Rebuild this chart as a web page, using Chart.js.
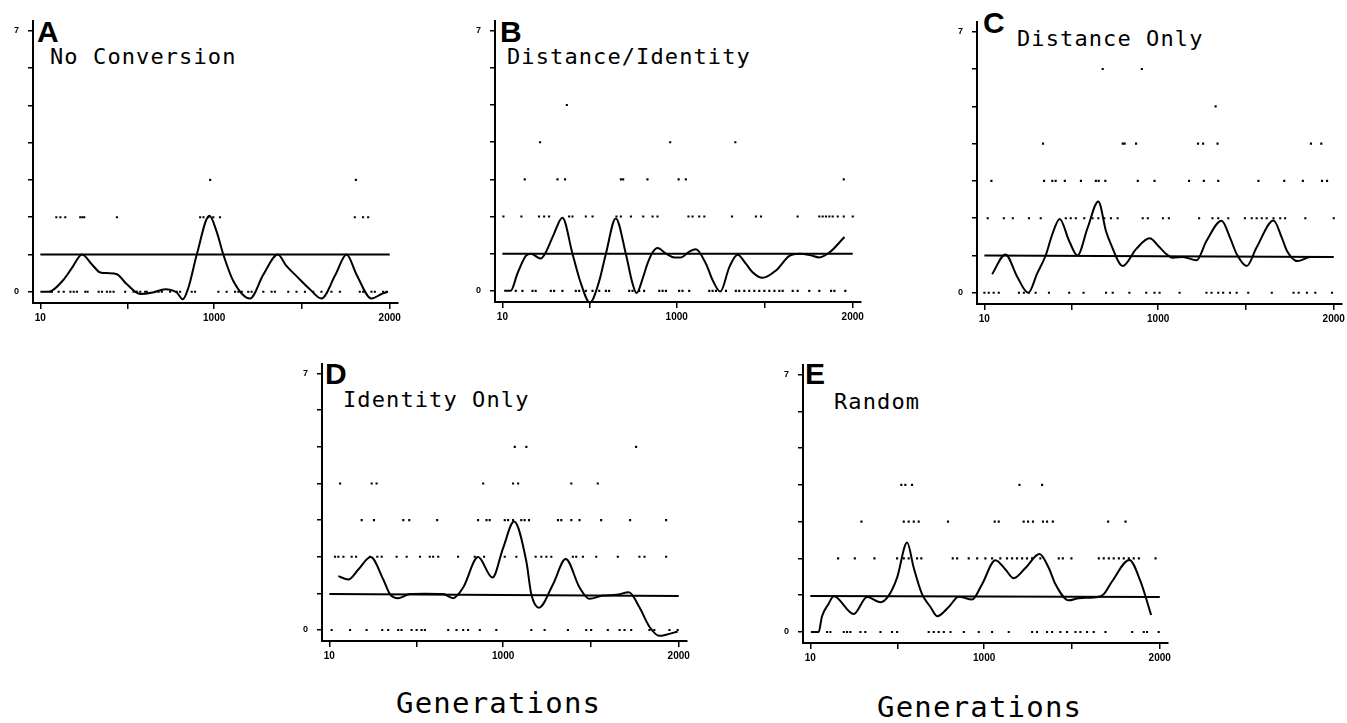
<!DOCTYPE html>
<html><head><meta charset="utf-8">
<script src="https://cdn.jsdelivr.net/npm/chart.js@4.4.0/dist/chart.umd.min.js"></script>
<style>
html,body{margin:0;padding:0;background:#fff;width:1347px;height:723px;overflow:hidden;position:relative;}
canvas{position:absolute;}
.lbl{position:absolute;font-family:"Liberation Sans",Arial,sans-serif;font-weight:bold;font-size:30px;line-height:30px;color:#000;white-space:nowrap;}
.ttl{position:absolute;font-family:"DejaVu Sans Mono",monospace;font-size:22px;line-height:22px;letter-spacing:1.1px;color:#000;white-space:nowrap;}
.gen{position:absolute;font-family:"DejaVu Sans Mono",monospace;font-size:29px;line-height:29px;letter-spacing:1.2px;color:#000;white-space:nowrap;}
</style></head><body>
<div class="lbl" style="left:37px;top:17px">A</div>
<div class="ttl" style="left:50px;top:46px">No Conversion</div>
<div class="lbl" style="left:500px;top:17px">B</div>
<div class="ttl" style="left:507px;top:46px">Distance/Identity</div>
<div class="lbl" style="left:983px;top:8px">C</div>
<div class="ttl" style="left:1017px;top:28px">Distance Only</div>
<div class="lbl" style="left:325px;top:359px">D</div>
<div class="ttl" style="left:343px;top:389px">Identity Only</div>
<div class="lbl" style="left:805px;top:359px">E</div>
<div class="ttl" style="left:834px;top:391px">Random</div>
<div class="gen" style="left:396px;top:689px">Generations</div>
<div class="gen" style="left:877px;top:693px">Generations</div>
<script>
// ---- tick labels ----
const xTickValues = [10, 505, 1000, 1500, 2000];
const xTickLabels = ['10', '', '1000', '', '2000'];
const yTickValues = [0, 1, 2, 3, 4, 5, 6, 7];
const yTickLabels = ['0', '', '', '', '', '', '', '7'];

// ---- Panel A: No Conversion ----
const curveAX = [10, 57, 143, 190, 247, 304, 351, 400, 446, 503, 579, 650, 721, 787, 821, 853, 901, 973, 1015, 1052, 1109, 1204, 1280, 1363, 1410, 1469, 1545, 1611, 1690, 1754, 1811, 1896, 1953, 1990];
const curveAY = [0, 0, 0.33, 0.64, 1.0, 0.73, 0.52, 0.5, 0.47, 0.2, -0.06, -0.02, 0.07, -0.02, -0.2, 0.11, 1.0, 2.04, 1.6, 1.0, 0.29, -0.18, 0.46, 1.0, 0.7, 0.42, 0.07, -0.18, 0.45, 1.0, 0.46, -0.18, -0.06, 0];
const meanA = [1.0, 1.0];
const dotsA = [
  [0, [67,76,114,143,181,200,218,266,279,342,361,389,408,427,493,541,560,579,607,616,664,683,702,749,787,806,872,891,1024,1071,1119,1138,1157,1194,1213,1280,1327,1346,1422,1469,1517,1564,1611,1668,1716,1829,1848,1896,1915,1962,1981]],
  [2, [101,124,152,237,249,260,446,920,939,967,995,1033,1801,1848,1877]],
  [3, [977,1807]]
];

// ---- Panel B: Distance/Identity ----
const curveBX = [20, 57, 95, 143, 171, 228, 256, 300, 351, 408, 456, 507, 556, 598, 654, 711, 749, 772, 810, 834, 863, 891, 940, 986, 1024, 1070, 1109, 1166, 1204, 1248, 1299, 1346, 1393, 1431, 1488, 1564, 1640, 1697, 1760, 1810, 1867, 1953];
const curveBY = [0, 0, 0.46, 0.94, 1.0, 0.87, 1.03, 1.5, 1.97, 1.0, 0.2, -0.32, 0.2, 1.0, 1.95, 1.0, 0.2, -0.06, 0.38, 0.73, 1.03, 1.15, 1.0, 0.9, 0.9, 1.05, 1.12, 0.73, 0.29, -0.02, 0.64, 0.97, 0.73, 0.5, 0.35, 0.55, 0.94, 1.0, 0.96, 0.9, 1.03, 1.45];
const meanB = [1.0, 1.0];
const dotsB = [
  [0, [86,124,181,199,285,304,351,427,446,484,522,560,598,616,730,749,787,815,901,920,939,1014,1033,1071,1185,1204,1223,1280,1336,1355,1384,1412,1441,1469,1498,1526,1555,1583,1602,1659,1687,1753,1810,1877,1896,1958]],
  [2, [16,118,218,247,275,389,408,484,522,658,683,740,810,863,891,1067,1090,1128,1157,1314,1450,1479,1687,1810,1829,1848,1867,1886,1915,1949,2000]],
  [3, [137,323,366,683,696,834,1011,1052,1949]],
  [4, [224,963,1333]],
  [5, [376]]
];

// ---- Panel C: Distance Only ----
const curveCX = [54, 130, 197, 260, 311, 359, 397, 439, 493, 540, 598, 659, 703, 731, 798, 874, 951, 1008, 1046, 1084, 1141, 1218, 1275, 1361, 1409, 1447, 1504, 1561, 1657, 1704, 1733, 1794, 1866, 1933];
const curveCY = [0.5, 1.03, 0.43, 0, 0.52, 1.0, 1.57, 1.98, 1.39, 1.0, 1.74, 2.45, 1.65, 1.3, 0.72, 1.17, 1.46, 1.22, 1.04, 0.94, 0.96, 0.87, 1.39, 1.93, 1.48, 1.04, 0.72, 1.22, 1.94, 1.48, 1.13, 0.85, 0.96, 0.96];
const meanC = [1.0, 0.96];
const dotsC = [
  [0, [10,35,63,92,207,235,264,302,378,493,575,703,741,836,932,979,1008,1122,1275,1304,1342,1370,1409,1447,1513,1647,1771,1800,1847,1895,1990]],
  [2, [29,121,172,264,331,474,502,531,579,626,659,693,731,769,912,941,1027,1061,1233,1309,1342,1399,1494,1533,1561,1590,1618,1657,1695,1723,1838,2000]],
  [3, [50,350,397,416,468,560,645,661,699,884,979,1176,1260,1342,1571,1718,1824,1933,1962]],
  [4, [344,798,809,874,1227,1256,1338,1870,1929]],
  [5, [1327]],
  [6, [684,907]]
];

// ---- Panel D: Identity Only ----
const curveDX = [61, 118, 175, 245, 317, 355, 402, 469, 550, 658, 715, 772, 857, 939, 999, 1062, 1132, 1160, 1204, 1284, 1356, 1435, 1492, 1568, 1644, 1716, 1776, 1833, 1890, 1928, 1994];
const curveDY = [1.47, 1.38, 1.65, 1.99, 1.38, 0.98, 0.87, 0.98, 0.99, 0.98, 0.87, 1.16, 1.99, 1.43, 2.23, 2.96, 1.87, 0.98, 0.61, 1.25, 1.94, 1.16, 0.85, 0.94, 0.96, 1.03, 0.62, 0.09, -0.16, -0.13, -0.04];
const meanD = [0.98, 0.93];
const dotsD = [
  [0, [23,128,222,311,345,402,421,478,507,535,554,687,734,772,800,867,961,1160,1236,1369,1473,1501,1596,1663,1691,1729,1833,1861,1947,1994]],
  [2, [42,61,90,137,162,241,283,308,393,450,526,582,601,630,743,838,891,1009,1075,1185,1217,1246,1274,1397,1416,1454,1530,1653,1776,1805,1928]],
  [3, [194,264,431,465,624,857,905,923,1009,1028,1056,1103,1122,1147,1312,1331,1388,1435,1558,1723,1928]],
  [4, [71,251,279,886,1056,1085,1388,1539]],
  [5, [1066,1132,1757]]
];

// ---- Panel E: Random ----
const curveEX = [19, 57, 76, 114, 143, 257, 333, 409, 456, 504, 561, 599, 646, 694, 732, 798, 855, 931, 988, 1064, 1121, 1168, 1235, 1315, 1368, 1406, 1482, 1539, 1653, 1681, 1729, 1827, 1890, 1951];
const curveEY = [0, 0, 0.42, 0.77, 0.97, 0.49, 0.95, 0.81, 0.99, 1.48, 2.43, 1.74, 1.03, 0.68, 0.43, 0.68, 0.96, 0.88, 1.3, 1.95, 1.7, 1.46, 1.74, 2.12, 1.74, 1.3, 0.86, 0.92, 0.96, 1.03, 1.38, 1.96, 1.38, 0.46];
const meanE = [0.98, 0.95];
const dotsE = [
  [0, [19,48,105,124,200,219,238,295,323,409,475,504,684,713,741,770,808,884,969,1045,1140,1273,1301,1358,1387,1434,1472,1520,1548,1586,1624,1691,1843,1909,1928,1994]],
  [2, [168,263,375,504,542,570,618,642,821,846,912,960,1007,1045,1092,1130,1159,1187,1216,1244,1273,1320,1425,1448,1497,1653,1681,1710,1738,1767,1795,1824,1852,1881,1976]],
  [3, [301,542,570,599,627,794,1060,1083,1225,1250,1278,1335,1358,1391,1706,1805]],
  [4, [528,551,589,1201,1330]]
];

// ---- layout (chart-area edges in page pixels: left, right, top, bottom) ----
const Y_W = 34, X_H = 26, PAD_T = 8, PAD_R = 6;
const panels = [
  { cx: curveAX, cy: curveAY, mean: meanA, dots: dotsA, area: [33, 398, 15, 303] },
  { cx: curveBX, cy: curveBY, mean: meanB, dots: dotsB, area: [495, 861, 15, 302] },
  { cx: curveCX, cy: curveCY, mean: meanC, dots: dotsC, area: [977, 1342, 16, 304] },
  { cx: curveDX, cy: curveDY, mean: meanD, dots: dotsD, area: [322, 687, 358, 641] },
  { cx: curveEX, cy: curveEY, mean: meanE, dots: dotsE, area: [803, 1168, 359, 643] }
];

const tickFont = { family: 'Liberation Sans', weight: 'bold', size: 10 };

panels.forEach(p => {
  const [L, R, T, B] = p.area;
  const cv = document.createElement('canvas');
  const w = (R - L) + Y_W + PAD_R, h = (B - T) + PAD_T + X_H;
  cv.width = w; cv.height = h;
  cv.style.left = (L - Y_W) + 'px'; cv.style.top = (T - PAD_T) + 'px';
  cv.style.width = w + 'px'; cv.style.height = h + 'px';
  document.body.appendChild(cv);

  const dotPts = [];
  p.dots.forEach(([lvl, xs]) => xs.forEach(x => dotPts.push({ x: x, y: lvl })));
  const curvePts = p.cx.map((x, i) => ({ x: x, y: p.cy[i] }));
  const meanPts = [{ x: 10, y: p.mean[0] }, { x: 2000, y: p.mean[1] }];

  new Chart(cv.getContext('2d'), {
    type: 'scatter',
    data: { datasets: [
      { data: dotPts, pointRadius: 1.5, pointStyle: 'rect', backgroundColor: '#000', borderWidth: 0, showLine: false },
      { data: curvePts, showLine: true, borderColor: '#000', borderWidth: 2, pointRadius: 0, cubicInterpolationMode: 'monotone', clip: false, fill: false },
      { data: meanPts, showLine: true, borderColor: '#000', borderWidth: 2, pointRadius: 0, fill: false }
    ]},
    options: {
      responsive: false, animation: false, devicePixelRatio: 1, events: [],
      layout: { autoPadding: false, padding: { left: 0, right: PAD_R, top: PAD_T, bottom: 0 } },
      plugins: { legend: { display: false }, tooltip: { enabled: false } },
      scales: {
        x: {
          type: 'linear', min: -32, max: 2045,
          afterBuildTicks: s => { s.ticks = xTickValues.map(v => ({ value: v })); },
          afterFit: s => { s.height = X_H; },
          ticks: { callback: (v, i) => xTickLabels[i], font: tickFont, color: '#000', padding: 3, autoSkip: false, maxRotation: 0 },
          grid: { display: true, drawOnChartArea: false, drawTicks: true, tickLength: 6, color: '#000', lineWidth: 1.5 },
          border: { display: true, color: '#000', width: 2 }
        },
        y: {
          type: 'linear', min: -0.3, max: 7.25,
          afterBuildTicks: s => { s.ticks = yTickValues.map(v => ({ value: v })); },
          afterFit: s => { s.width = Y_W; },
          ticks: { callback: (v, i) => yTickLabels[i], font: { family: 'Liberation Sans', weight: 'bold', size: 9 }, color: '#000', padding: 9, autoSkip: false },
          grid: { display: true, drawOnChartArea: false, drawTicks: true, tickLength: 5, color: '#000', lineWidth: 1.5 },
          border: { display: true, color: '#000', width: 2 }
        }
      }
    }
  });
});
</script>
</body></html>
